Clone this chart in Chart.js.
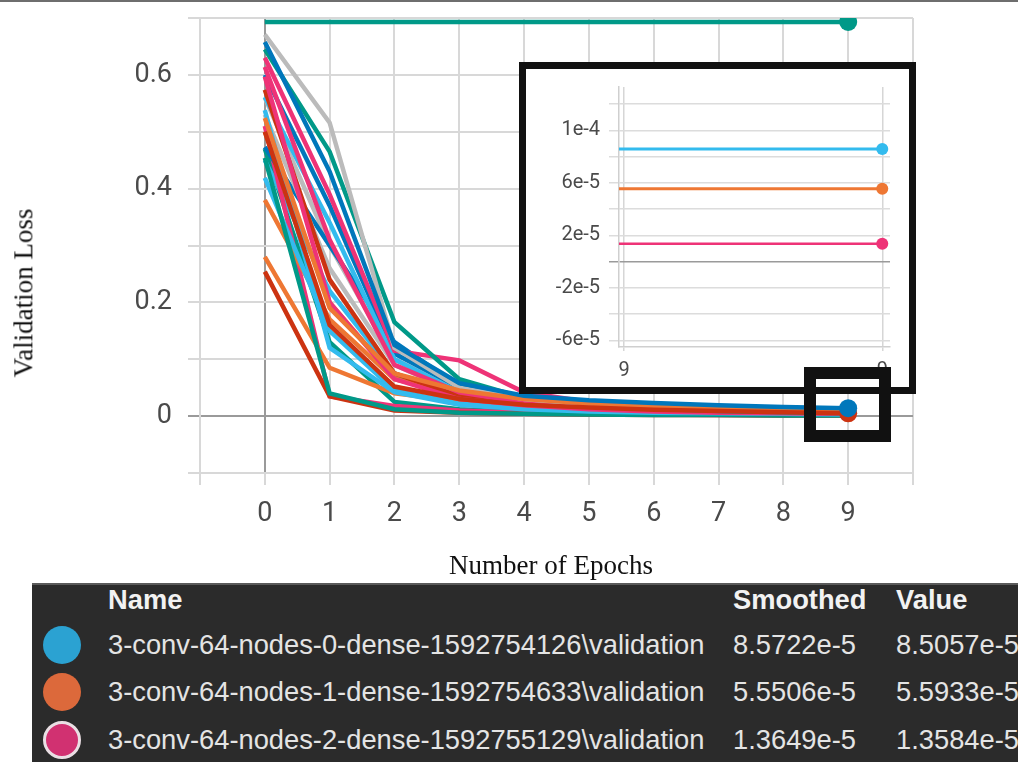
<!DOCTYPE html>
<html>
<head>
<meta charset="utf-8">
<script src="https://cdn.jsdelivr.net/npm/chart.js@4.4.1/dist/chart.umd.min.js"></script>
<style>
  html, body { margin: 0; padding: 0; background: #fff; }
  #page { position: relative; width: 1018px; height: 762px; overflow: hidden; background: #fff; }
  #topRule { position: absolute; left: 0; top: 0; width: 1018px; height: 2px; background: #6e6e6e; }
  #mainChart { position: absolute; left: 0; top: 0; }
  #insetBox { position: absolute; left: 519px; top: 62px; width: 397px; height: 332px; box-sizing: border-box; border: 7px solid #111; background: #fff; }
  #insetChart { position: absolute; left: 0; top: 0; }
  #zoomBox { position: absolute; left: 804px; top: 367px; width: 87px; height: 75px; box-sizing: border-box; border: 12px solid #111; }
  .axisTitle { position: absolute; font-family: 'Liberation Serif', 'Times New Roman', serif; font-size: 27px; color: #111; white-space: nowrap; line-height: 30px; }
  #runs { position: absolute; left: 32px; top: 583px; width: 986px; height: 179px; background: #2b2b2b; border-top: 2px solid #5a5a5a; box-sizing: border-box; }
  .cell { position: absolute; font-family: 'Liberation Sans', Arial, sans-serif; font-size: 27.3px; line-height: 30px; color: #e4e4e4; white-space: nowrap; }
  .hdr { font-weight: bold; color: #f2f2f2; }
  .dot { position: absolute; width: 38px; height: 38px; border-radius: 50%; box-sizing: border-box; }
</style>
</head>
<body>
<div id="page">
  <canvas id="mainChart" width="1018" height="583"></canvas>
  <div id="topRule"></div>
  <div class="axisTitle" id="yTitle">Validation Loss</div>
  <div class="axisTitle" id="xTitle">Number of Epochs</div>
  <div id="insetBox"><canvas id="insetChart" width="383" height="318"></canvas></div>
  <div id="zoomBox"></div>
  <div id="runs"></div>
</div>
<script>
// epochs on the x axis
const epochs = [0, 1, 2, 3, 4, 5, 6, 7, 8, 9];

// TensorBoard palette
const runColors = [
  '#009988', '#0077bb', '#cc3311', '#ee7733', '#bbbbbb', '#009988', '#ee3377',
  '#ee3377', '#ee3377', '#cc3311', '#33bbee', '#33bbee', '#bbbbbb', '#0077bb',
  '#009988', '#33bbee', '#ee7733', '#ee7733', '#cc3311', '#ee3377', '#0077bb',
  '#33bbee', '#bbbbbb', '#009988', '#ee7733'
];

// validation loss per run, epochs 0..9
const valLoss = [
  [0.693, 0.693, 0.693, 0.693, 0.693, 0.693, 0.693, 0.693, 0.693, 0.693],
  [0.658, 0.43, 0.125, 0.058, 0.036, 0.028, 0.023, 0.019, 0.016, 0.014],
  [0.5, 0.16, 0.052, 0.03, 0.02, 0.015, 0.011, 0.009, 0.007, 0.005],
  [0.524, 0.19, 0.075, 0.045, 0.03, 0.022, 0.017, 0.014, 0.012, 0.01],
  [0.671, 0.516, 0.12, 0.05, 0.03, 0.02, 0.015, 0.012, 0.01, 0.008],
  [0.645, 0.465, 0.165, 0.065, 0.032, 0.02, 0.013, 0.009, 0.007, 0.005],
  [0.63, 0.39, 0.115, 0.098, 0.042, 0.025, 0.017, 0.012, 0.01, 0.008],
  [0.614, 0.31, 0.09, 0.042, 0.024, 0.015, 0.011, 0.008, 0.006, 0.005],
  [0.597, 0.2, 0.065, 0.03, 0.019, 0.012, 0.008, 0.006, 0.005, 0.004],
  [0.574, 0.24, 0.075, 0.035, 0.021, 0.014, 0.01, 0.008, 0.007, 0.005],
  [0.561, 0.34, 0.1, 0.042, 0.025, 0.016, 0.011, 0.008, 0.007, 0.006],
  [0.538, 0.12, 0.042, 0.02, 0.012, 0.008, 0.006, 0.005, 0.004, 0.003],
  [0.53, 0.26, 0.09, 0.04, 0.022, 0.015, 0.01, 0.008, 0.007, 0.006],
  [0.473, 0.3, 0.13, 0.052, 0.032, 0.024, 0.019, 0.016, 0.014, 0.012],
  [0.454, 0.04, 0.012, 0.006, 0.004, 0.003, 0.002, 0.002, 0.001, 0.001],
  [0.419, 0.15, 0.045, 0.022, 0.013, 0.009, 0.007, 0.005, 0.004, 0.003],
  [0.38, 0.17, 0.065, 0.038, 0.026, 0.019, 0.015, 0.012, 0.011, 0.01],
  [0.28, 0.085, 0.04, 0.026, 0.018, 0.013, 0.01, 0.009, 0.008, 0.007],
  [0.254, 0.035, 0.01, 0.006, 0.004, 0.003, 0.002, 0.002, 0.001, 0.001],
  [0.51, 0.035, 0.018, 0.01, 0.006, 0.004, 0.003, 0.002, 0.002, 0.002],
  [0.6, 0.37, 0.11, 0.05, 0.03, 0.022, 0.017, 0.014, 0.012, 0.011],
  [0.45, 0.22, 0.075, 0.035, 0.02, 0.013, 0.009, 0.007, 0.006, 0.005],
  [0.56, 0.3, 0.1, 0.045, 0.026, 0.017, 0.012, 0.009, 0.008, 0.007],
  [0.47, 0.13, 0.025, 0.012, 0.007, 0.005, 0.004, 0.003, 0.002, 0.002],
  [0.5, 0.2, 0.068, 0.04, 0.027, 0.02, 0.016, 0.013, 0.011, 0.01]
];
// runs that show their last-epoch marker
const markedRuns = [0, 1, 2];

const yLabelValues = [0, 0.2, 0.4, 0.6];

// inset: zoom on the last epoch
const insetXLabels = ['9', '9'];
const insetX = [-0.02, 1];
const insetYGrid = [-6e-5, -4e-5, -2e-5, 0, 2e-5, 4e-5, 6e-5, 8e-5, 1e-4, 1.2e-4];
const insetYLabels = ['-6e-5', '', '-2e-5', '', '2e-5', '', '6e-5', '', '1e-4', ''];
const runNames = [
  '3-conv-64-nodes-0-dense-1592754126\\validation',
  '3-conv-64-nodes-1-dense-1592754633\\validation',
  '3-conv-64-nodes-2-dense-1592755129\\validation'
];
const smoothedLoss = [8.5722e-5, 5.5506e-5, 1.3649e-5];
const lastLoss = [8.5057e-5, 5.5933e-5, 1.3584e-5];
const insetColors = ['#33bbee', '#ee7733', '#ee3377'];
const tableDotColors = ['#2ba2d2', '#dc693b', '#d13171'];

const gridLight = '#d8d8d8';
const gridZero = '#9a9a9a';
const tickFont = { family: 'Roboto, sans-serif', size: 27 };
const insetFont = { family: 'Roboto, sans-serif', size: 20 };

function zeroAware(c) {
  return c.tick && Math.abs(c.tick.value) < 1e-12 ? gridZero : gridLight;
}

// ---------- main chart ----------
const mainSets = valLoss.map((vals, i) => ({
  data: vals.map((v, k) => ({ x: epochs[k], y: v })),
  borderColor: runColors[i],
  backgroundColor: runColors[i],
  borderWidth: 4.5,
  tension: 0,
  pointRadius: ctx => (markedRuns.includes(i) && ctx.dataIndex === epochs.length - 1) ? 9 : 0,
  pointBorderWidth: 0
}));

new Chart(document.getElementById('mainChart'), {
  type: 'line',
  data: { datasets: mainSets },
  options: {
    responsive: false,
    animation: false,
    devicePixelRatio: 1,
    layout: { padding: { top: 18, right: 105, left: 0, bottom: 0 } },
    plugins: { legend: { display: false }, tooltip: { enabled: false } },
    scales: {
      x: {
        type: 'linear', min: -1, max: 10,
        grid: { color: zeroAware, lineWidth: 2, tickLength: 12, tickColor: gridLight },
        border: { color: gridLight, width: 2 },
        ticks: {
          stepSize: 1, autoSkip: false, maxRotation: 0, padding: 13,
          color: '#4a4a4a', font: tickFont,
          callback: v => (v >= 0 && v <= 9) ? String(v) : ''
        },
        afterFit: s => { s.height = 110; s.paddingLeft = 0; s.paddingRight = 0; }
      },
      y: {
        min: -0.1, max: 0.7,
        grid: { color: zeroAware, lineWidth: 2, tickLength: 12, tickColor: zeroAware },
        border: { color: gridLight, width: 2 },
        ticks: {
          stepSize: 0.1, autoSkip: false, padding: 16,
          color: '#4a4a4a', font: tickFont,
          callback: v => {
            const hit = yLabelValues.find(t => Math.abs(t - v) < 1e-9);
            return hit === undefined ? '' : String(hit);
          }
        },
        afterFit: s => { s.width = 200; s.paddingTop = 0; s.paddingBottom = 0; }
      }
    }
  }
});

// ---------- inset chart ----------
const insetSets = smoothedLoss.map((v, i) => ({
  data: insetX.map(x => ({ x: x, y: v })),
  borderColor: insetColors[i],
  backgroundColor: insetColors[i],
  borderWidth: i === 2 ? 2.5 : 3,
  tension: 0,
  pointRadius: ctx => ctx.dataIndex === insetX.length - 1 ? 6 : 0,
  pointBorderWidth: 0
}));

new Chart(document.getElementById('insetChart'), {
  type: 'line',
  data: { datasets: insetSets },
  options: {
    responsive: false,
    animation: false,
    devicePixelRatio: 1,
    layout: { padding: { top: 18, right: 19, left: 0, bottom: 0 } },
    plugins: { legend: { display: false }, tooltip: { enabled: false } },
    scales: {
      x: {
        type: 'linear', min: -0.02, max: 1.03,
        afterBuildTicks: s => { s.ticks = [{ value: 0 }, { value: 1 }]; },
        grid: { color: '#d6d6d6', lineWidth: 1.5, tickLength: 4 },
        border: { color: '#cfcfcf', width: 1.5 },
        ticks: {
          autoSkip: false, maxRotation: 0, padding: 8,
          color: '#4a4a4a', font: insetFont,
          callback: (v, i) => insetXLabels[i]
        },
        afterFit: s => { s.height = 40; s.paddingLeft = 0; s.paddingRight = 0; }
      },
      y: {
        min: -6.5e-5, max: 1.33e-4,
        afterBuildTicks: s => { s.ticks = insetYGrid.map(v => ({ value: v })); },
        grid: {
          color: c => (c.tick && c.tick.value === 0) ? gridZero : '#dcdcdc',
          lineWidth: 1.5, tickLength: 10
        },
        border: { color: '#cfcfcf', width: 1.5 },
        ticks: {
          autoSkip: false, padding: 9,
          color: '#4a4a4a', font: insetFont,
          callback: (v, i) => insetYLabels[i]
        },
        afterFit: s => { s.width = 93; s.paddingTop = 0; s.paddingBottom = 0; }
      }
    }
  }
});

// ---------- axis titles ----------
const yT = document.getElementById('yTitle');
yT.style.left = (23 - yT.offsetWidth / 2) + 'px';
yT.style.top = (293 - 15) + 'px';
yT.style.transform = 'rotate(-90deg)';
const xT = document.getElementById('xTitle');
xT.style.left = (551 - xT.offsetWidth / 2) + 'px';
xT.style.top = (565 - 15) + 'px';

// ---------- runs table ----------
const runs = document.getElementById('runs');
function cell(text, x, cy, cls) {
  const d = document.createElement('div');
  d.className = 'cell' + (cls ? ' ' + cls : '');
  d.textContent = text;
  d.style.left = (x - 32) + 'px';
  d.style.top = (cy - 583 - 15) + 'px';
  runs.appendChild(d);
}
cell('Name', 108, 598, 'hdr');
cell('Smoothed', 733, 598, 'hdr');
cell('Value', 896, 598, 'hdr');
const rowY = [643, 690, 738];
runNames.forEach((name, i) => {
  const dot = document.createElement('div');
  dot.className = 'dot';
  dot.style.background = tableDotColors[i];
  if (i === 2) dot.style.border = '3px solid #eadfe4';
  dot.style.left = (62 - 19 - 32) + 'px';
  dot.style.top = (rowY[i] - 19 - 583) + 'px';
  runs.appendChild(dot);
  cell(name, 108, rowY[i]);
  cell(smoothedLoss[i].toExponential(4), 733, rowY[i]);
  cell(lastLoss[i].toExponential(4), 896, rowY[i]);
});
</script>
</body>
</html>
